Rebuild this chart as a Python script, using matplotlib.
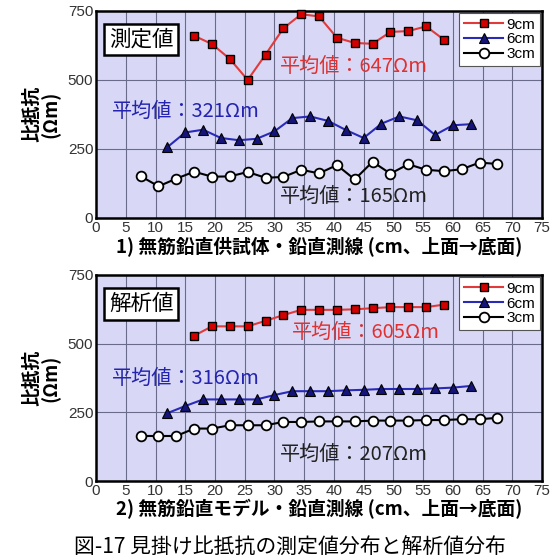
import matplotlib
matplotlib.use("Agg")
import matplotlib.pyplot as plt
import numpy as np

plt.rcParams['font.family'] = ['Noto Sans CJK JP', 'DejaVu Sans']

# Measurement positions along the vertical survey line (cm)
x_9cm = [16.5, 19.5, 22.5, 25.5, 28.5, 31.5, 34.5, 37.5, 40.5, 43.5, 46.5, 49.5, 52.5, 55.5, 58.5]
x_6cm = [12, 15, 18, 21, 24, 27, 30, 33, 36, 39, 42, 45, 48, 51, 54, 57, 60, 63]
x_3cm = [7.5, 10.5, 13.5, 16.5, 19.5, 22.5, 25.5, 28.5, 31.5, 34.5, 37.5, 40.5,
         43.5, 46.5, 49.5, 52.5, 55.5, 58.5, 61.5, 64.5, 67.5]

# Measured apparent resistivity (Ωm)
meas_9cm = [659, 629, 575, 499, 591, 686, 737, 729, 652, 633, 630, 673, 676, 693, 645]
meas_6cm = [256, 309, 319, 289, 281, 286, 313, 361, 367, 351, 318, 289, 341, 367, 353, 300, 335, 339]
meas_3cm = [151, 114, 142, 167, 149, 150, 166, 145, 148, 174, 161, 191, 139, 203, 160,
            194, 174, 169, 176, 200, 195]

# Analysed apparent resistivity (Ωm)
anal_9cm = [529, 563, 563, 563, 583, 604, 623, 623, 623, 625, 629, 633, 633, 633, 642]
anal_6cm = [247, 273, 297, 297, 297, 297, 313, 327, 327, 327, 330, 332, 335, 335, 335, 337, 340, 346]
anal_3cm = [164, 164, 164, 191, 191, 203, 203, 203, 215, 215, 217, 217, 217, 220, 220,
            220, 222, 222, 225, 225, 230]

means_meas = {'9cm': 647, '6cm': 321, '3cm': 165}
means_anal = {'9cm': 605, '6cm': 316, '3cm': 207}

xticks = list(range(0, 80, 5))
yticks = [0, 250, 500, 750]

BG = '#d8d8f6'
RED_LINE = '#e23a3a'
RED_FACE = '#d40000'
BLUE_LINE = '#2a2ab8'
BLUE_FACE = '#14147a'

fig = plt.figure(figsize=(5.52, 5.6), dpi=100)


def draw_panel(ax, y9, y6, y3, means, title, xlabel, pos):
    ax.set_facecolor(BG)
    ax.set_xlim(0, 75)
    ax.set_ylim(0, 750)
    ax.set_xticks(xticks)
    ax.set_yticks(yticks)
    ax.grid(True, color='#6a6a8a', linewidth=0.8)
    ax.set_axisbelow(True)
    ax.tick_params(length=0, labelsize=11, labelcolor='#333333', pad=2)
    ax.set_xticklabels([str(t) for t in xticks], family='Liberation Sans')
    ax.set_yticklabels([str(t) for t in yticks], family='Liberation Sans')
    for s in ax.spines.values():
        s.set_linewidth(1.8)
        s.set_color('black')

    ax.plot(x_9cm, y9, '-s', color=RED_LINE, lw=1.5, ms=5.5,
            mfc=RED_FACE, mec='black', mew=1.0, label='9cm', clip_on=False, zorder=4)
    ax.plot(x_6cm, y6, '-^', color=BLUE_LINE, lw=1.5, ms=7,
            mfc=BLUE_FACE, mec='black', mew=0.8, label='6cm', zorder=4)
    ax.plot(x_3cm, y3, '-o', color='black', lw=1.5, ms=7,
            mfc='white', mec='black', mew=1.3, label='3cm', zorder=4)

    leg = ax.legend(loc='upper right', handlelength=2.6,
                    handletextpad=0.2, labelspacing=0.05, borderpad=0.3,
                    borderaxespad=0.15, frameon=True, fancybox=False,
                    prop={'family': 'Liberation Sans', 'size': 11})
    leg.get_frame().set_edgecolor('#555555')
    leg.get_frame().set_linewidth(0.8)
    leg.get_frame().set_alpha(1)

    ax.text(7.6, 645, title, fontsize=15.5, ha='center', va='center', zorder=5,
            bbox=dict(boxstyle='square,pad=0.22', fc='white', ec='black', lw=1.8))

    p9, p6, p3 = pos
    ax.text(p9[0], p9[1], f"平均値：{means['9cm']}Ωm", color='#e03030',
            fontsize=14.5, ha='left', va='center', zorder=5)
    ax.text(p6[0], p6[1], f"平均値：{means['6cm']}Ωm", color='#2424b0',
            fontsize=14.5, ha='left', va='center', zorder=5)
    ax.text(p3[0], p3[1], f"平均値：{means['3cm']}Ωm", color='#222222',
            fontsize=14.5, ha='left', va='center', zorder=5)

    ax.set_xlabel(xlabel, fontsize=13.5, fontweight='bold', labelpad=1)
    ax.set_ylabel("比抵抗\n(Ωm)", fontsize=13.5, fontweight='bold', labelpad=5,
                  linespacing=0.95)


ax1 = fig.add_axes([0.174, 0.611, 0.808, 0.370])
draw_panel(ax1, meas_9cm, meas_6cm, meas_3cm, means_meas, '測定値',
           "1) 無筋鉛直供試体・鉛直測線 (cm、上面→底面)",
           [(31, 548), (2.7, 385), (31, 77)])

ax2 = fig.add_axes([0.174, 0.141, 0.808, 0.368])
draw_panel(ax2, anal_9cm, anal_6cm, anal_3cm, means_anal, '解析値',
           "2) 無筋鉛直モデル・鉛直測線 (cm、上面→底面)",
           [(33, 539), (2.7, 374), (31, 95)])

fig.text(0.525, 0.024, "図-17 見掛け比抵抗の測定値分布と解析値分布",
         fontsize=15, ha='center', va='center')

fig.savefig('out.png', dpi=100, facecolor='white')
